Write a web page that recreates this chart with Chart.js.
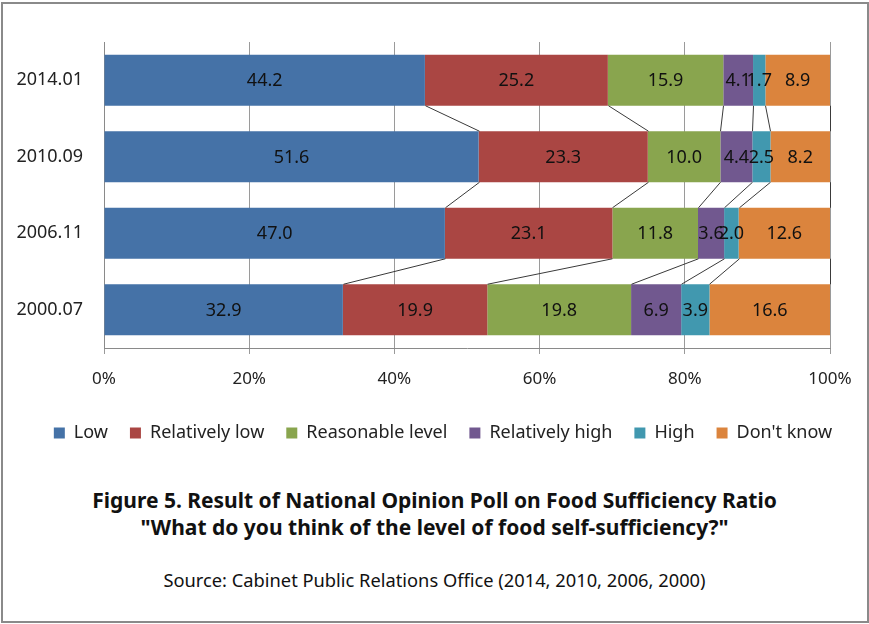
<!DOCTYPE html>
<html>
<head>
<meta charset="utf-8">
<script src="https://cdn.jsdelivr.net/npm/chart.js@4.4.0/dist/chart.umd.min.js"></script>
<style>
  body { margin: 0; background: #fff; }
  #frame { position: absolute; left: 1px; top: 2px; width: 864px; height: 617px; border: 2px solid #8a8a8a; }
  #wrap { position: absolute; left: 0; top: 0; width: 869px; height: 470px; }
  .cap { position: absolute; left: 0; width: 869px; text-align: center; font-family: "Noto Sans", sans-serif; color: #111; }
  .t { font-size: 21px; font-weight: bold; line-height: 27px; }
  .s { font-size: 18.3px; line-height: 22px; }
</style>
</head>
<body>
<div id="frame"></div>
<div id="wrap"><canvas id="grafico"></canvas></div>
<div class="cap t" style="top:487px">Figure 5. Result of National Opinion Poll on Food Sufficiency Ratio</div>
<div class="cap t" style="top:514px">"What do you think of the level of food self-sufficiency?"</div>
<div class="cap s" style="top:569px">Source: Cabinet Public Relations Office (2014, 2010, 2006, 2000)</div>
<script>
const anni = ['2014.01', '2010.09', '2006.11', '2000.07'];
const basso = [44.2, 51.6, 47.0, 32.9];
const relBasso = [25.2, 23.3, 23.1, 19.9];
const ragionevole = [15.9, 10.0, 11.8, 19.8];
const relAlto = [4.1, 4.4, 3.6, 6.9];
const alto = [1.7, 2.5, 2.0, 3.9];
const nonSo = [8.9, 8.2, 12.6, 16.6];
const etichetteX = ['0%', '20%', '40%', '60%', '80%', '100%'];

const serie = [
  { label: 'Low', valori: basso, colore: '#4572A7' },
  { label: 'Relatively low', valori: relBasso, colore: '#AA4643' },
  { label: 'Reasonable level', valori: ragionevole, colore: '#89A54E' },
  { label: 'Relatively high', valori: relAlto, colore: '#71588F' },
  { label: 'High', valori: alto, colore: '#4198AF' },
  { label: "Don't know", valori: nonSo, colore: '#DB843D' }
];

// 100% stacked: ogni riga normalizzata sul suo totale
const totali = anni.map((_, i) => serie.reduce((s, d) => s + d.valori[i], 0));

const font = 'Noto Sans';

// linee di collegamento tra le barre (stile Excel)
const lineeSerie = {
  id: 'lineeSerie',
  afterDatasetsDraw(chart) {
    const ctx = chart.ctx;
    ctx.save();
    ctx.strokeStyle = '#3a3a3a';
    ctx.lineWidth = 1;
    chart.data.datasets.forEach((ds, di) => {
      const meta = chart.getDatasetMeta(di);
      for (let i = 0; i < meta.data.length - 1; i++) {
        const a = meta.data[i], b = meta.data[i + 1];
        ctx.beginPath();
        ctx.moveTo(Math.round(a.x) + 0.5, a.y + a.height / 2);
        ctx.lineTo(Math.round(b.x) + 0.5, b.y - b.height / 2);
        ctx.stroke();
      }
    });
    ctx.restore();
  }
};

// etichette dei valori al centro dei segmenti
const etichette = {
  id: 'etichette',
  afterDatasetsDraw(chart) {
    const ctx = chart.ctx;
    ctx.save();
    ctx.font = `18px "${font}"`;
    ctx.fillStyle = '#111';
    ctx.textAlign = 'center';
    ctx.textBaseline = 'middle';
    chart.data.datasets.forEach((ds, di) => {
      const meta = chart.getDatasetMeta(di);
      meta.data.forEach((el, i) => {
        ctx.fillText(serie[di].valori[i].toFixed(1), (el.x + el.base) / 2, el.y + 1);
      });
    });
    ctx.restore();
  }
};

// la legenda di Excel e' centrata un po' piu' a destra
const spostaLegenda = {
  id: 'spostaLegenda',
  beforeDraw(chart) {
    chart.legend.left += 28;
    chart.legend.right += 28;
  }
};

new Chart(document.getElementById('grafico'), {
  type: 'bar',
  data: {
    labels: anni,
    datasets: serie.map(s => ({
      label: s.label,
      data: s.valori.map((v, i) => v / totali[i] * 100),
      backgroundColor: s.colore,
      borderWidth: 0,
      barPercentage: 0.667,
      categoryPercentage: 1
    }))
  },
  options: {
    indexAxis: 'y',
    responsive: true,
    maintainAspectRatio: false,
    animation: false,
    layout: { padding: { left: 0, right: 39, top: 42, bottom: 18 } },
    scales: {
      x: {
        stacked: true,
        min: 0,
        max: 100,
        afterFit: a => { a.height = 54; },
        ticks: {
          stepSize: 20,
          padding: 15,
          color: '#222',
          font: { family: font, size: 17 },
          callback: (v, i) => etichetteX[i]
        },
        grid: { color: '#9a9a9a', tickLength: 6 },
        border: { color: '#8a8a8a' }
      },
      y: {
        stacked: true,
        afterFit: a => { a.width = 104; },
        ticks: {
          padding: 21,
          color: '#222',
          font: { family: font, size: 18 }
        },
        grid: { display: false, drawTicks: false },
        border: { color: '#8a8a8a' }
      }
    },
    plugins: {
      legend: {
        position: 'bottom',
        labels: {
          boxWidth: 11,
          boxHeight: 11,
          padding: 22,
          color: '#222',
          font: { family: font, size: 18 }
        }
      },
      tooltip: { enabled: false }
    }
  },
  plugins: [lineeSerie, etichette, spostaLegenda]
});
</script>
</body>
</html>
